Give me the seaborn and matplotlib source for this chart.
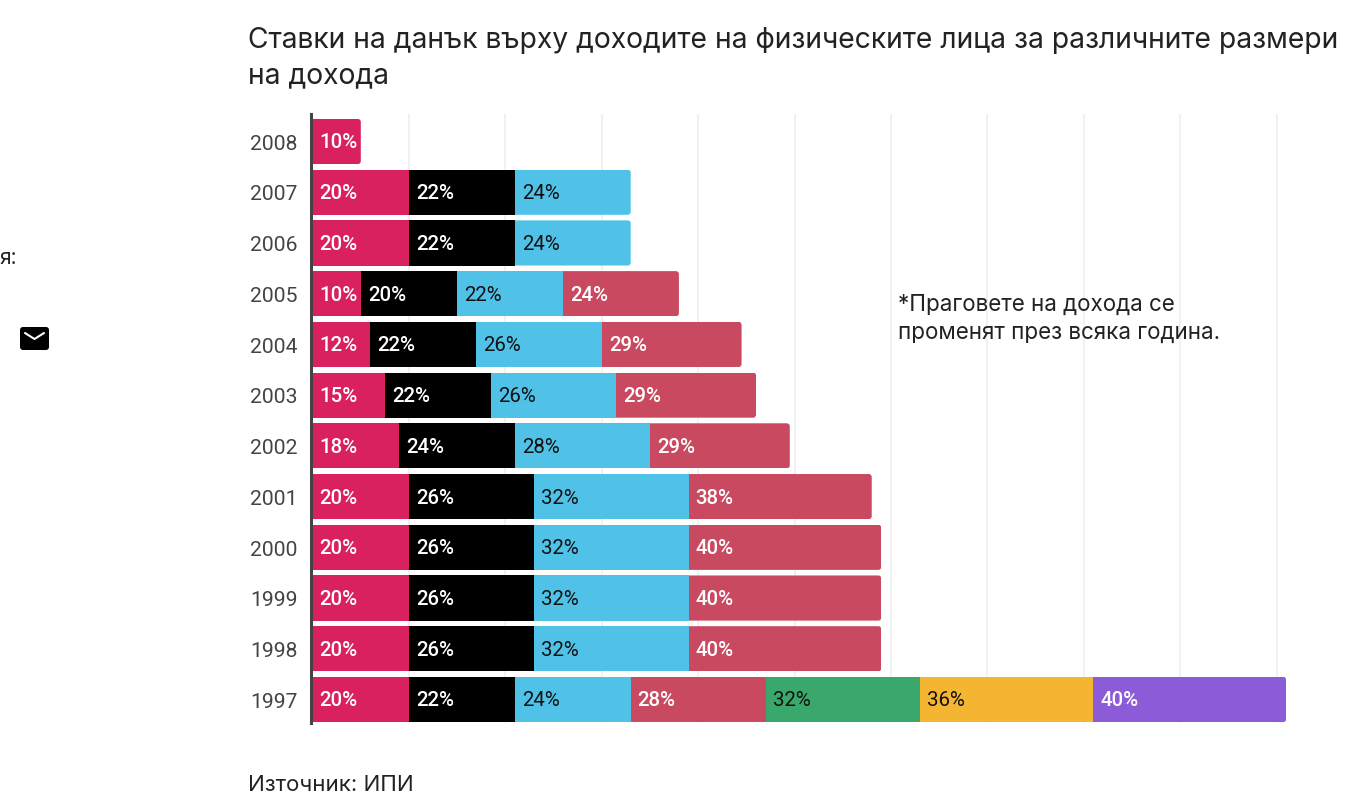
import numpy as np
import pandas as pd
import seaborn as sns
import matplotlib
matplotlib.use("Agg")
import matplotlib.pyplot as plt
from matplotlib.patches import FancyBboxPatch
from matplotlib.lines import Line2D
from matplotlib.transforms import ScaledTranslation, IdentityTransform

years = ["2008", "2007", "2006", "2005", "2004", "2003", "2002", "2001", "2000", "1999", "1998", "1997"]
n = np.nan
tier1 = [10, 20, 20, 10, 12, 15, 18, 20, 20, 20, 20, 20]
tier2 = [n, 22, 22, 20, 22, 22, 24, 26, 26, 26, 26, 22]
tier3 = [n, 24, 24, 22, 26, 26, 28, 32, 32, 32, 32, 24]
tier4 = [n, n, n, 24, 29, 29, 29, 38, 40, 40, 40, 28]
tier5 = [n, n, n, n, n, n, n, n, n, n, n, 32]
tier6 = [n, n, n, n, n, n, n, n, n, n, n, 36]
tier7 = [n, n, n, n, n, n, n, n, n, n, n, 40]
tiers = [tier1, tier2, tier3, tier4, tier5, tier6, tier7]
colors = ["#D9215F", "#000000", "#50C2E8", "#C94A60", "#3AA76D", "#F4B533", "#8C5CD8"]
text_colors = ["white", "white", "#111111", "white", "#111111", "#111111", "white"]
text_weights = [500, 500, 400, 500, 400, 400, 500]
title = "Ставки на данък върху доходите на физическите лица за различните размери\nна дохода"
note = "*Праговете на дохода се\nпроменят през всяка година."
source = "Източник: ИПИ"

sns.set_theme(style="white")
plt.rcParams["font.family"] = ["Roboto", "DejaVu Sans"]

W, H = 1345, 811
fig = plt.figure(figsize=(W / 100, H / 100), dpi=100, facecolor="white")
x0, x1, ytop, ybot = 312.6, 1300, 114, 723
ax = fig.add_axes([x0 / W, 1 - ybot / H, (x1 - x0) / W, (ybot - ytop) / H])

df = pd.DataFrame({"year": years})
for i, t in enumerate(tiers):
    df[f"t{i}"] = t
cum = df[[f"t{i}" for i in range(7)]].cumsum(axis=1, skipna=False)
totals = cum.max(axis=1).to_numpy()

for i in range(6, -1, -1):
    d = pd.DataFrame({"year": years, "end": cum[f"t{i}"]})
    sns.barplot(data=d, x="end", y="year", order=years, color=colors[i], saturation=1,
                width=0.89, errorbar=None, ax=ax, zorder=3 + (6 - i) * 0.1, linewidth=0)

step = (699.5 - 141.5) / 11
ax.set_ylim(11 + (ybot - 699.5) / step, -(141.5 - ytop) / step)
scale = 4.82
ax.set_xlim(0, (x1 - x0) / scale)
ax.set_xticks(np.arange(20, 201, 20))
ax.set_xticklabels([])
ax.set_xlabel("")
ax.set_ylabel("")
ax.grid(axis="x", color="#EFEFEF", lw=1.2)
ax.grid(axis="y", visible=False)
ax.set_axisbelow(True)
for s in ["top", "right", "bottom"]:
    ax.spines[s].set_visible(False)
ax.spines["left"].set_color("#444444")
ax.spines["left"].set_linewidth(2.2)
ax.spines["left"].set_zorder(10)
ax.spines["left"].set_position(("outward", 1.0))
ax.tick_params(axis="y", length=0, pad=10, labelsize=15.2, labelcolor="#444444")
ax.tick_params(axis="x", length=0)
shift = ScaledTranslation(0, -0.5 / 72, fig.dpi_scale_trans)
for lab in ax.get_yticklabels():
    lab.set_transform(lab.get_transform() + shift)

# Round the outer end of each row's longest bar
for p in ax.patches:
    w = p.get_width()
    if not np.isfinite(w) or w <= 0:
        continue
    row = int(round(p.get_y() + p.get_height() / 2))
    if abs(w - totals[row]) < 1e-6:
        bb = p.get_window_extent()
        clip = FancyBboxPatch((bb.x0 - 10, bb.y0), bb.width + 10, bb.height,
                              boxstyle="round,pad=0,rounding_size=3",
                              transform=IdentityTransform())
        p.set_clip_path(clip)

label_shift = ScaledTranslation(0, -1.5 / 100, fig.dpi_scale_trans)
for i in range(7):
    for r in range(len(years)):
        v = tiers[i][r]
        if np.isnan(v):
            continue
        left = cum[f"t{i}"].iloc[r] - v
        ax.text(left + 7 / scale, r, f"{int(v)}%", color=text_colors[i], fontsize=14.7,
                fontweight=text_weights[i], va="center", ha="left", zorder=8, family="Roboto",
                transform=ax.transData + label_shift)

fig.text(248 / W, 1 - 89 / H, title, fontsize=20.35, family="Inter", color="#222222",
         ha="left", va="bottom", linespacing=1.36)
fig.text(898 / W, 1 - 318.5 / H, note, fontsize=16.15, family="Inter", color="#222222",
         ha="left", va="center", linespacing=1.35)
fig.text(248 / W, 1 - 785 / H, source, fontsize=16, family="Inter", color="#222222",
         ha="left", va="center")
fig.text(-1 / W, 1 - 258 / H, "я:", fontsize=15, family="Inter", color="#222222",
         ha="left", va="center")

env = FancyBboxPatch((20, H - 350), 29, 23, boxstyle="round,pad=0,rounding_size=3",
                     transform=None, facecolor="black", edgecolor="black", lw=0)
fig.add_artist(env)
fig.add_artist(Line2D([25 / W, 34.5 / W, 44 / W], [1 - 333 / H, 1 - 339 / H, 1 - 333 / H],
                      transform=fig.transFigure, color="white", lw=1.5))

fig.savefig("out.png", dpi=100, facecolor="white")
